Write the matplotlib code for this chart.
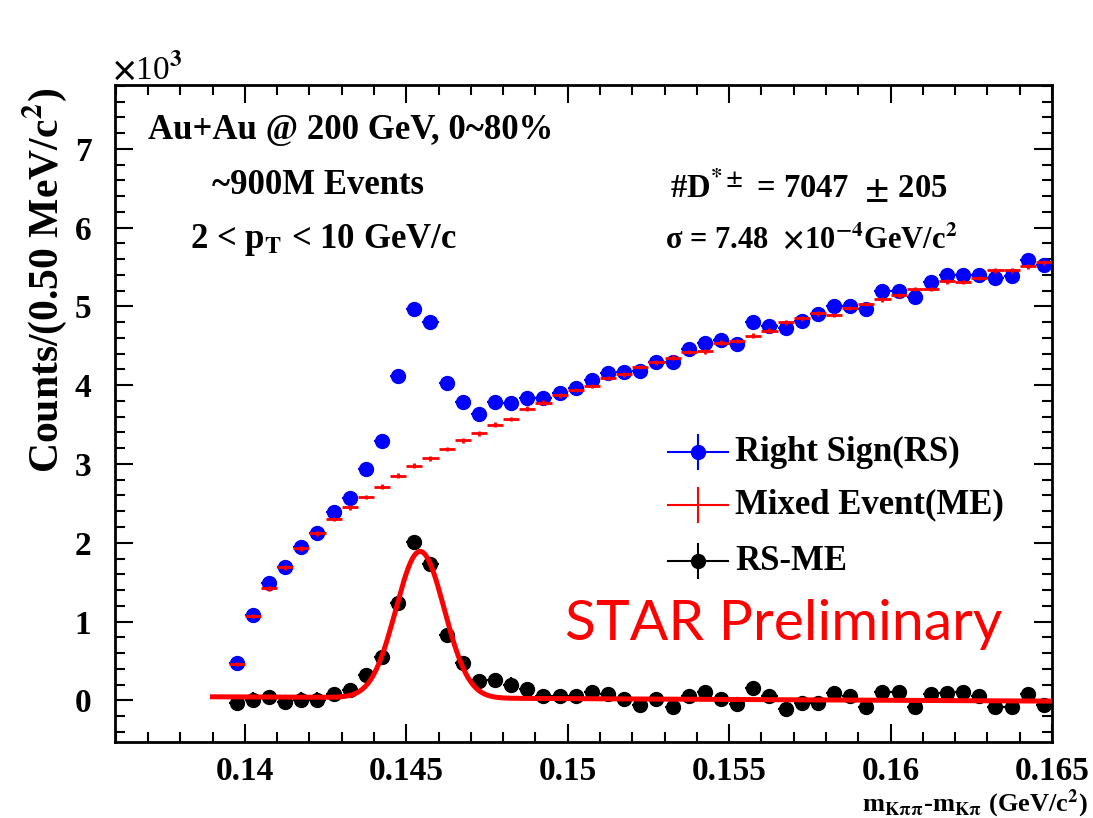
import numpy as np
import matplotlib
matplotlib.use("Agg")
import matplotlib.pyplot as plt
from matplotlib.ticker import MultipleLocator, FuncFormatter
from matplotlib.lines import Line2D

# ---------------- data (values in units of 10^3 counts per 0.5 MeV bin) ----------------
bin_width = 0.0005
bin_low = 0.1395
rs_counts = [0.47, 1.08, 1.49, 1.69, 1.95, 2.13, 2.39, 2.57, 2.94, 3.29,
             4.12, 4.97, 4.80, 4.03, 3.79, 3.64, 3.79, 3.77, 3.84, 3.84,
             3.90, 3.97, 4.07, 4.15, 4.17, 4.18, 4.30, 4.29, 4.46, 4.53,
             4.57, 4.52, 4.80, 4.75, 4.72, 4.81, 4.90, 5.00, 5.00, 4.97,
             5.19, 5.20, 5.12, 5.31, 5.40, 5.40, 5.40, 5.36, 5.38, 5.59,
             5.52]
me_counts = [0.46, 1.07, 1.42, 1.69, 1.93, 2.12, 2.30, 2.45, 2.58, 2.71,
             2.85, 2.98, 3.07, 3.19, 3.30, 3.39, 3.50, 3.57, 3.70, 3.78,
             3.87, 3.94, 3.99, 4.09, 4.14, 4.23, 4.29, 4.35, 4.42, 4.43,
             4.54, 4.56, 4.63, 4.69, 4.80, 4.85, 4.91, 4.89, 4.98, 5.03,
             5.09, 5.14, 5.22, 5.22, 5.32, 5.31, 5.36, 5.46, 5.46, 5.51,
             5.56]
diff_counts = [-0.04, 0.01, 0.04, -0.02, 0.01, 0.01, 0.085, 0.13, 0.32, 0.55,
               1.24, 2.01, 1.73, 0.83, 0.47, 0.24, 0.26, 0.20, 0.14, 0.05,
               0.05, 0.05, 0.11, 0.08, 0.02, -0.06, 0.02, -0.08, 0.05, 0.10,
               0.02, -0.05, 0.16, 0.06, -0.11, -0.04, -0.04, 0.09, 0.05, -0.09,
               0.11, 0.11, -0.08, 0.08, 0.09, 0.11, 0.05, -0.08, -0.09, 0.08,
               -0.06]
rs_err = 0.06
me_err = 0.03
diff_err = 0.09

# fit: Gaussian (sigma quoted on plot) + linear background
fit_mean = 0.14543
fit_sigma = 7.48e-4
fit_amp = 1.86
fit_bkg_left = 0.045
fit_bkg_right = -0.01
fit_lo, fit_hi = 0.139, 0.165

x_ticks = [0.14, 0.145, 0.15, 0.155, 0.16, 0.165]
y_ticks = [0, 1, 2, 3, 4, 5, 6, 7]

# ---------------- style ----------------
plt.rcParams['font.family'] = ['Liberation Serif', 'DejaVu Serif']
plt.rcParams['font.weight'] = 'bold'
plt.rcParams['mathtext.fontset'] = 'stix'
plt.rcParams['mathtext.default'] = 'bf'

W, H = 1093, 818
fig = plt.figure(figsize=(W / 100, H / 100), dpi=100)
L, R, T, B = 115, 1052, 85, 741.7
ax = fig.add_axes([L / W, 1 - B / H, (R - L) / W, (B - T) / H])

centers = bin_low + bin_width * (np.arange(len(rs_counts)) + 0.5)

ax.errorbar(centers, rs_counts, xerr=bin_width / 2, yerr=rs_err, fmt='o',
            color='#0000ff', ms=10, elinewidth=1.6, capsize=0, zorder=2)
ax.errorbar(centers, me_counts, xerr=bin_width / 2, yerr=me_err, fmt='none',
            ecolor='#ff0000', elinewidth=2.0, capsize=0, zorder=3)
ax.errorbar(centers, diff_counts, xerr=bin_width / 2, yerr=diff_err, fmt='o',
            color='black', ms=10, elinewidth=1.6, capsize=0, zorder=4)

xf = np.linspace(fit_lo, fit_hi, 400)
bkg = fit_bkg_left + (fit_bkg_right - fit_bkg_left) * (xf - fit_lo) / (fit_hi - fit_lo)
yf = fit_amp * np.exp(-0.5 * ((xf - fit_mean) / fit_sigma) ** 2) + bkg
ax.plot(xf, yf, color='#ff0000', lw=3.6, zorder=5)

ax.set_xlim(0.13598, 0.16495)
ax.set_ylim(-0.525, 7.81)
ax.set_xticks(x_ticks)
ax.set_yticks(y_ticks)
ax.xaxis.set_minor_locator(MultipleLocator(0.001))
ax.yaxis.set_minor_locator(MultipleLocator(0.2))
ax.xaxis.set_major_formatter(FuncFormatter(lambda v, p: '%g' % round(v, 4)))
ax.tick_params(which='both', direction='in', top=True, right=True, width=1.5,
               labelsize=24)
ax.tick_params(which='major', length=13)
ax.tick_params(which='minor', length=7)
ax.tick_params(axis='x', pad=10)
ax.tick_params(axis='y', pad=17)
for s in ax.spines.values():
    s.set_linewidth(2.0)


def fx(px):
    return px / W


def fy(py):
    return 1 - py / H


# axis titles
fig.text(fx(44), fy(88), 'Counts/(0.50 MeV/c$^{2}$)', rotation=90, ha='center',
         va='top', fontsize=30)
fig.text(fx(112), fy(86), '$\\times$10$^{3}$', ha='left', va='bottom', fontsize=24,
         fontweight='normal')
fig.text(fx(1088), fy(811), 'm$_{K\\pi\\pi}$-m$_{K\\pi}$ (GeV/c$^{2}$)',
         ha='right', va='baseline', fontsize=19)

# annotations
fig.text(fx(148), fy(130), 'Au+Au @ 200 GeV, 0~80%', ha='left', va='center', fontsize=25)
fig.text(fx(212), fy(186), '~900M Events', ha='left', va='center', fontsize=25)
fig.text(fx(190), fy(240), '2 < p$_{T}$ < 10 GeV/c', ha='left', va='center', fontsize=25)
fig.text(fx(670), fy(186), '#D$^{*\\pm}$ = 7047  $\\pm$ 205', ha='left', va='center', fontsize=23.5)
fig.text(fx(665), fy(240), '\u03c3 = 7.48  $\\times$10$^{-4}$GeV/c$^{2}$', ha='left',
         va='center', fontsize=22)

fig.text(fx(565), fy(625), 'STAR Preliminary', ha='left', va='center', fontsize=41,
         color='#ff0000', fontweight='normal', family=['Lato', 'DejaVu Sans'])

# legend (drawn by hand, ROOT style)
legend_entries = [('Right Sign(RS)', '#0000ff', True, 452),
                  ('Mixed Event(ME)', '#ff0000', False, 505),
                  ('RS-ME', 'black', True, 561)]
for label, col, has_marker, yc in legend_entries:
    fig.add_artist(Line2D([fx(668), fx(728)], [fy(yc), fy(yc)], color=col, lw=1.5))
    fig.add_artist(Line2D([fx(698), fx(698)], [fy(yc - 17), fy(yc + 17)], color=col, lw=1.5))
    if has_marker:
        fig.add_artist(Line2D([fx(698)], [fy(yc)], marker='o', color=col, ms=10))
    fig.text(fx(735), fy(yc), label, ha='left', va='center', fontsize=25)

fig.savefig('out.png', dpi=100)
